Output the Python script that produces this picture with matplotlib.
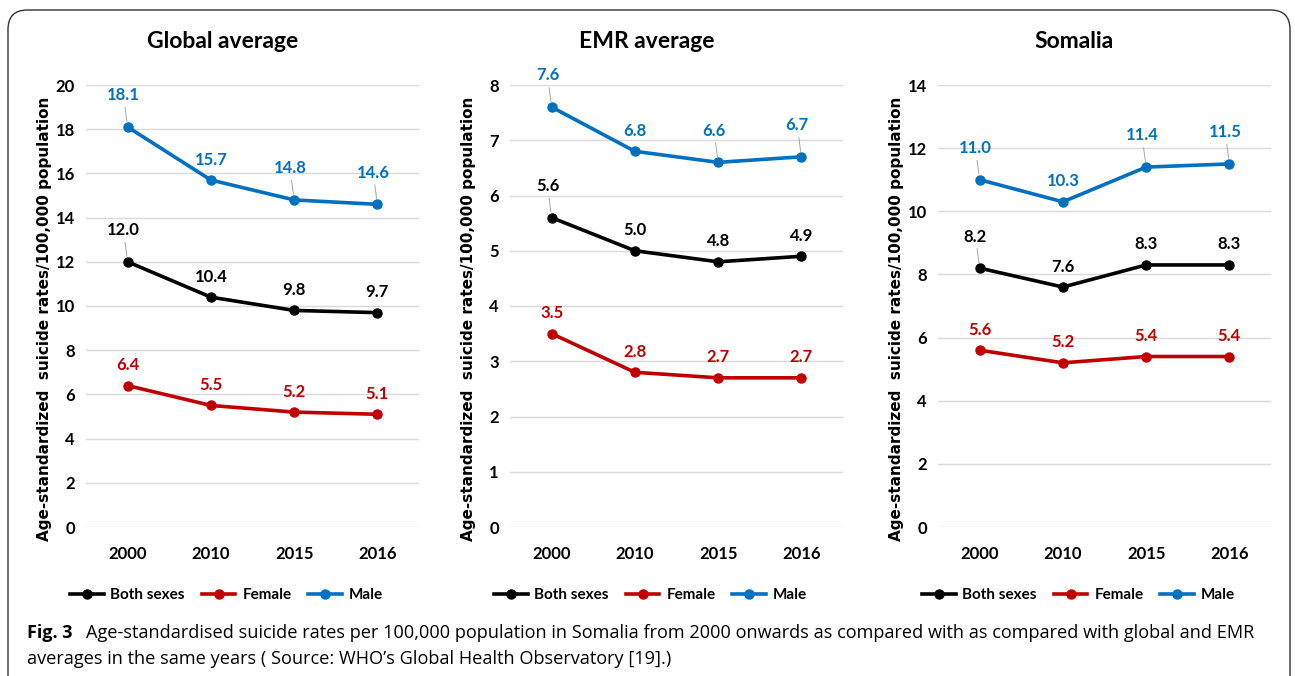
import matplotlib.pyplot as plt
from matplotlib.patches import FancyBboxPatch
from matplotlib.lines import Line2D

years = ["2000", "2010", "2015", "2016"]

panel_titles = ["Global average", "EMR average", "Somalia"]

both_global = [12.0, 10.4, 9.8, 9.7]
female_global = [6.4, 5.5, 5.2, 5.1]
male_global = [18.1, 15.7, 14.8, 14.6]

both_emr = [5.6, 5.0, 4.8, 4.9]
female_emr = [3.5, 2.8, 2.7, 2.7]
male_emr = [7.6, 6.8, 6.6, 6.7]

both_som = [8.2, 7.6, 8.3, 8.3]
female_som = [5.6, 5.2, 5.4, 5.4]
male_som = [11.0, 10.3, 11.4, 11.5]

y_max = [20, 8, 14]
y_step = [2, 1, 2]

series_names = ["Both sexes", "Female", "Male"]
colors = ["#000000", "#C00000", "#0070C0"]

# which labels have a small leader line (both sexes, female, male)
leaders = [[True, False, False, False],
           [False, False, False, False],
           [True, False, True, True]]

NARROW = ["Lato", "DejaVu Sans"]

fig = plt.figure(figsize=(12.95, 6.76), dpi=100)

# rounded frame round the figure
frame = FancyBboxPatch((8 / 1295, -0.05), 1282 / 1295, (676 - 10) / 676 + 0.05,
                       boxstyle="round,pad=0,rounding_size=0.015",
                       transform=fig.transFigure, fill=False,
                       edgecolor="#333333", linewidth=1.0, mutation_aspect=1295 / 676)
fig.patches.append(frame)

data = [
    (both_global, female_global, male_global),
    (both_emr, female_emr, male_emr),
    (both_som, female_som, male_som),
]
lefts = [86, 510, 938]
width = 333

for i in range(3):
    ax = fig.add_axes([lefts[i] / 1295, 1 - 527 / 676, width / 1295, (527 - 85) / 676])
    x = list(range(len(years)))
    for s, (vals, col) in enumerate(zip(data[i], colors)):
        ax.plot(x, vals, color=col, lw=2.6, marker="o", ms=6.5, zorder=3)
        for xi, v in zip(x, vals):
            if leaders[s][xi]:
                ax.annotate(f"{v:.1f}", xy=(xi, v), xytext=(-3, 17), textcoords="offset points",
                            ha="center", va="bottom", color=col, fontsize=12,
                            fontweight="bold", family=NARROW,
                            arrowprops=dict(arrowstyle="-", color="#A6A6A6", lw=0.7,
                                            shrinkA=1, shrinkB=4))
            else:
                ax.annotate(f"{v:.1f}", xy=(xi, v), xytext=(0, 9), textcoords="offset points",
                            ha="center", va="bottom", color=col, fontsize=12,
                            fontweight="bold", family=NARROW)
    ax.set_xlim(-0.5, 3.5)
    ax.set_ylim(0, y_max[i])
    ax.set_yticks(range(0, y_max[i] + 1, y_step[i]))
    ax.set_xticks(x)
    ax.set_xticklabels(years)
    ax.grid(axis="y", color="#D9D9D9", lw=1.0)
    ax.set_axisbelow(True)
    for sp in ax.spines.values():
        sp.set_visible(False)
    ax.tick_params(axis="y", length=0, pad=8)
    ax.tick_params(axis="x", length=0, pad=14)
    for lab in ax.get_xticklabels() + ax.get_yticklabels():
        lab.set_fontweight("bold")
        lab.set_fontsize(12)
        lab.set_family(NARROW)
    ax.set_ylabel("Age-standardized  suicide rates/100,000 population",
                  fontsize=11, fontweight="bold", family="DejaVu Sans")
    ax.yaxis.set_label_coords(-0.103, 0.47)

    cx = (lefts[i] + width / 2 - 30) / 1295
    fig.text(cx, 1 - 42 / 676, panel_titles[i], ha="center", va="center",
             fontsize=16.5, fontweight="bold", family=NARROW)

    handles = [Line2D([], [], color=c, lw=2.6, marker="o", ms=6.5) for c in colors]
    fig.legend(handles, series_names, loc="center", ncol=3,
               bbox_to_anchor=(cx + 0.003, 1 - 595 / 676), frameon=False,
               prop={"family": NARROW, "weight": "bold", "size": 11},
               handlelength=2.2, columnspacing=1.1, handletextpad=0.45)

fig.text(27 / 1295, 1 - 633 / 676, "Fig. 3", ha="left", va="center",
         fontsize=13, fontweight="bold", family="Open Sans")
fig.text(86 / 1295, 1 - 633 / 676,
         "Age-standardised suicide rates per 100,000 population in Somalia from 2000 onwards as compared with as compared with global and EMR",
         ha="left", va="center", fontsize=13.1, family="Open Sans")
fig.text(27 / 1295, 1 - 659 / 676,
         "averages in the same years ( Source: WHO\u2019s Global Health Observatory [19].)",
         ha="left", va="center", fontsize=13.1, family="Open Sans")

fig.savefig("out.png", dpi=100)
